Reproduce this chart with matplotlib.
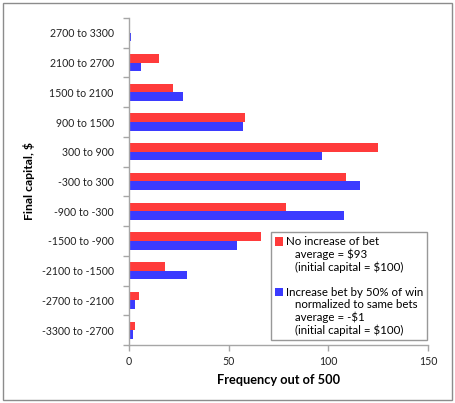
import numpy as np
import matplotlib
matplotlib.use('Agg')
import matplotlib.pyplot as plt
from matplotlib.patches import Patch, Rectangle

plt.rcParams['font.family'] = ['Lato', 'DejaVu Sans']

# bins of final capital, bottom to top
bins = ['-3300 to -2700', '-2700 to -2100', '-2100 to -1500', '-1500 to -900',
        '-900 to -300', '-300 to 300', '300 to 900', '900 to 1500',
        '1500 to 2100', '2100 to 2700', '2700 to 3300']
no_increase = [3, 5, 18, 66, 79, 109, 125, 58, 22, 15, 0]
increase_50 = [2, 3, 29, 54, 108, 116, 97, 57, 27, 6, 1]

red = '#FF3B3B'
blue = '#3B3BFF'
axcol = '#A6A6A6'

fig = plt.figure(figsize=(4.55, 4.03), dpi=100)
ax = fig.add_axes([129/455, 1-345/403, 299/455, 327/403])

y = np.arange(len(bins))
h = 0.29
ax.barh(y + h/2, no_increase, height=h, color=red, edgecolor='none')
ax.barh(y - h/2, increase_50, height=h, color=blue, edgecolor='none')

ax.set_xlim(0, 150)
ax.set_ylim(-0.5, len(bins) - 0.5)
ax.set_xticks([0, 50, 100, 150])
ax.set_yticks(np.arange(-0.5, len(bins), 1.0))
ax.set_yticklabels([])
ax.set_yticks(y, minor=True)
ax.set_yticklabels(bins, minor=True)
ax.tick_params(axis='y', which='major', length=4, width=1, color=axcol, direction='out')
ax.tick_params(axis='y', which='minor', length=0, pad=11, labelsize=7.6, labelcolor='#222222')
ax.tick_params(axis='x', length=4, width=1, color=axcol, direction='out', pad=4,
               labelsize=7.6, labelcolor='#222222')

for s in ['top', 'right']:
    ax.spines[s].set_visible(False)
for s in ['left', 'bottom']:
    ax.spines[s].set_color(axcol)
    ax.spines[s].set_linewidth(1)

ax.set_xlabel('Frequency out of 500', fontsize=9.2, fontweight='bold', labelpad=5)
ax.set_ylabel('Final capital, $', fontsize=8.8, fontweight='bold', labelpad=5)

blank = Patch(facecolor='none', edgecolor='none')
handles = [Patch(facecolor=red, edgecolor='none'), blank, blank, blank,
           Patch(facecolor=blue, edgecolor='none'), blank, blank, blank]
labels = ['No increase of bet', '   average = $93', '   (initial capital = $100)', ' ',
          'Increase bet by 50% of win', '   normalized to same bets',
          '   average = -$1', '   (initial capital = $100)']
leg = ax.legend(handles, labels, loc='lower right', bbox_to_anchor=(0.997, 0.015),
                fontsize=8.3, frameon=True, fancybox=False, edgecolor='#7F7F7F',
                handlelength=0.65, handleheight=0.75, handletextpad=0.25,
                labelspacing=0.12, borderpad=0.35, borderaxespad=0)
leg.get_frame().set_linewidth(1)

fig.patches.append(Rectangle((3/455, 3/403), 449/455, 397/403, transform=fig.transFigure,
                             fill=False, edgecolor='#8C8C8C', linewidth=1))

fig.savefig('out.png', dpi=100)
